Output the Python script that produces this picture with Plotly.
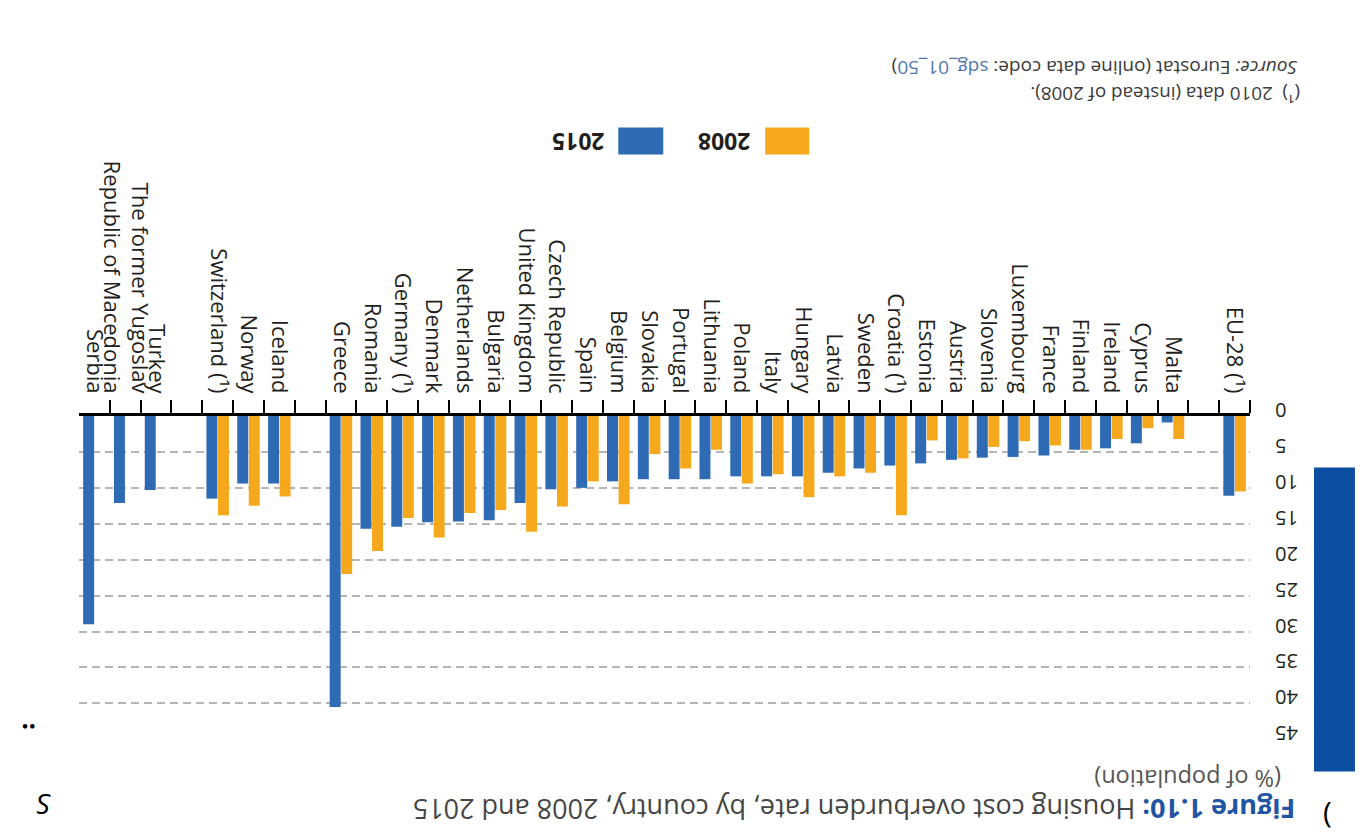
import plotly.graph_objects as go

# ---- data (original chart order; the picture is a 180-degree rotated scan) ----
categories = [
    "EU-28 (¹)", " ", "Malta", "Cyprus", "Ireland", "Finland", "France", "Luxembourg",
    "Slovenia", "Austria", "Estonia", "Croatia (¹)", "Sweden", "Latvia", "Hungary",
    "Italy", "Poland", "Lithuania", "Portugal", "Slovakia", "Belgium", "Spain",
    "Czech Republic", "United Kingdom", "Bulgaria", "Netherlands", "Denmark",
    "Germany (¹)", "Romania", "Greece", "  ", "Iceland", "Norway", "Switzerland (¹)",
    "   ", "Turkey", "The former Yugoslav<br>Republic of Macedonia", "Serbia",
]
values_2008 = [
    10.5, None, 3.2, 1.7, 3.2, 4.7, 4.1, 3.5,
    4.3, 5.9, 3.4, 13.8, 7.9, 8.4, 11.3,
    8.1, 9.4, 4.7, 7.3, 5.3, 12.3, 9.1,
    12.6, 16.1, 13.1, 13.5, 16.9,
    14.2, 18.8, 22.0, None, 11.2, 12.5, 13.8,
    None, None, None, None,
]
values_2015 = [
    11.1, None, 0.9, 3.8, 4.5, 4.7, 5.5, 5.7,
    5.8, 6.1, 6.6, 6.9, 7.3, 7.9, 8.4,
    8.4, 8.4, 8.8, 8.8, 8.8, 9.1, 10.0,
    10.2, 12.1, 14.5, 14.7, 14.8,
    15.4, 15.7, 40.5, None, 9.4, 9.4, 11.5,
    None, 10.3, 12.1, 29.0,
]
y_ticks = [0, 5, 10, 15, 20, 25, 30, 35, 40, 45]
series_names = ["2008", "2015"]
title_text = "Housing cost overburden rate, by country, 2008 and 2015"
unit_text = "(% of population)"
footnote_text = "(¹)  2010 data (instead of 2008)."

ORANGE = "#f6a81d"
BLUE = "#2f6bb5"
DARK_BLUE = "#0c4ea2"
TEXT = "#231f20"
GREY = "#555555"

W, H = 1364, 832
L, R, T, B = 70.5, 1242, 407.5, 731.6


def px(xp):
    return (xp - L) / (R - L)


def py(yp):
    return (B - yp) / (B - T)


fig = go.Figure()
fig.add_trace(go.Bar(x=categories, y=values_2008, name=series_names[0],
                     marker=dict(color=ORANGE, line=dict(width=0))))
fig.add_trace(go.Bar(x=categories, y=values_2015, name=series_names[1],
                     marker=dict(color=BLUE, line=dict(width=0))))

font_main = "Open Sans, Noto Sans, sans-serif"

# upside-down tick labels: pad one-digit labels so all read from the same edge
y_ticktext = [("\u2007" + str(v)) if v < 10 else str(v) for v in y_ticks]

fig.update_layout(
    width=W, height=H,
    margin=dict(l=L, r=W - R, t=T, b=H - B, pad=0),
    paper_bgcolor="white", plot_bgcolor="white",
    barmode="group", bargap=0.25, bargroupgap=0.05,
    showlegend=False,
    font=dict(family=font_main, color=TEXT),
    xaxis=dict(
        type="category", categoryorder="array", categoryarray=categories,
        autorange="reversed", side="top",
        showline=True, linecolor="black", linewidth=2.5,
        ticks="outside", tickson="boundaries", ticklen=13, tickwidth=2, tickcolor="black",
        tickangle=90, tickfont=dict(size=22, color=TEXT, family=font_main),
        ticklabelstandoff=12,
        showgrid=False, zeroline=False,
    ),
    yaxis=dict(
        range=[45.1, 0], side="right", tickvals=y_ticks, ticktext=y_ticktext,
        tickangle=180, tickfont=dict(size=20, color=TEXT, family=font_main),
        ticks="", ticklabelstandoff=47,
        showgrid=True, gridcolor="#b5b5b5", gridwidth=1.5, griddash="8px,5px",
        zeroline=False, showline=False,
    ),
)

shapes = [
    # legend swatches
    dict(type="rect", xref="paper", yref="paper", x0=px(757), x1=px(801), y0=py(146), y1=py(119),
         fillcolor=ORANGE, line=dict(width=0)),
    dict(type="rect", xref="paper", yref="paper", x0=px(610), x1=px(655), y0=py(146), y1=py(119),
         fillcolor=BLUE, line=dict(width=0)),
    # dark blue page tab at right edge
    dict(type="rect", xref="paper", yref="paper", x0=px(1306), x1=px(1347), y0=py(763), y1=py(459),
         fillcolor=DARK_BLUE, line=dict(width=0)),
]
fig.update_layout(shapes=shapes)


def ann(text, xp, yp, size, color=TEXT, bold=False, italic=False, angle=180):
    t = text
    if bold:
        t = "<b>" + t + "</b>"
    if italic:
        t = "<i>" + t + "</i>"
    return dict(text=t, x=px(xp), y=py(yp), xref="paper", yref="paper",
                xanchor="center", yanchor="middle", showarrow=False, textangle=angle,
                font=dict(size=size, color=color, family=font_main))


annotations = [
    ann(series_names[0], 716, 134, 23, bold=True),
    ann(series_names[1], 570, 134, 23, bold=True),
    ann(footnote_text, 1157, 86, 18.8, color="#3a3a3a"),
    ann("<i>Source:</i> Eurostat (online data code: <span style='color:#4f76b0'>sdg_01_50</span>)",
        1087, 60, 19, color="#3a3a3a"),
    ann("<b><span style='color:#1f55a3'>Figure 1.10:</span></b> " + title_text, 846, 801, 27,
        color="#454545"),
    ann(unit_text, 1180, 770, 23.5, color=GREY),
    ann("(", 1320, 803, 30, color="black", angle=0),
    ann("··", 20, 718, 26, color="black", bold=True),
    ann("S", 35, 796, 28, color="black", italic=True),
]
fig.update_layout(annotations=annotations)

fig.write_html("out.html")
